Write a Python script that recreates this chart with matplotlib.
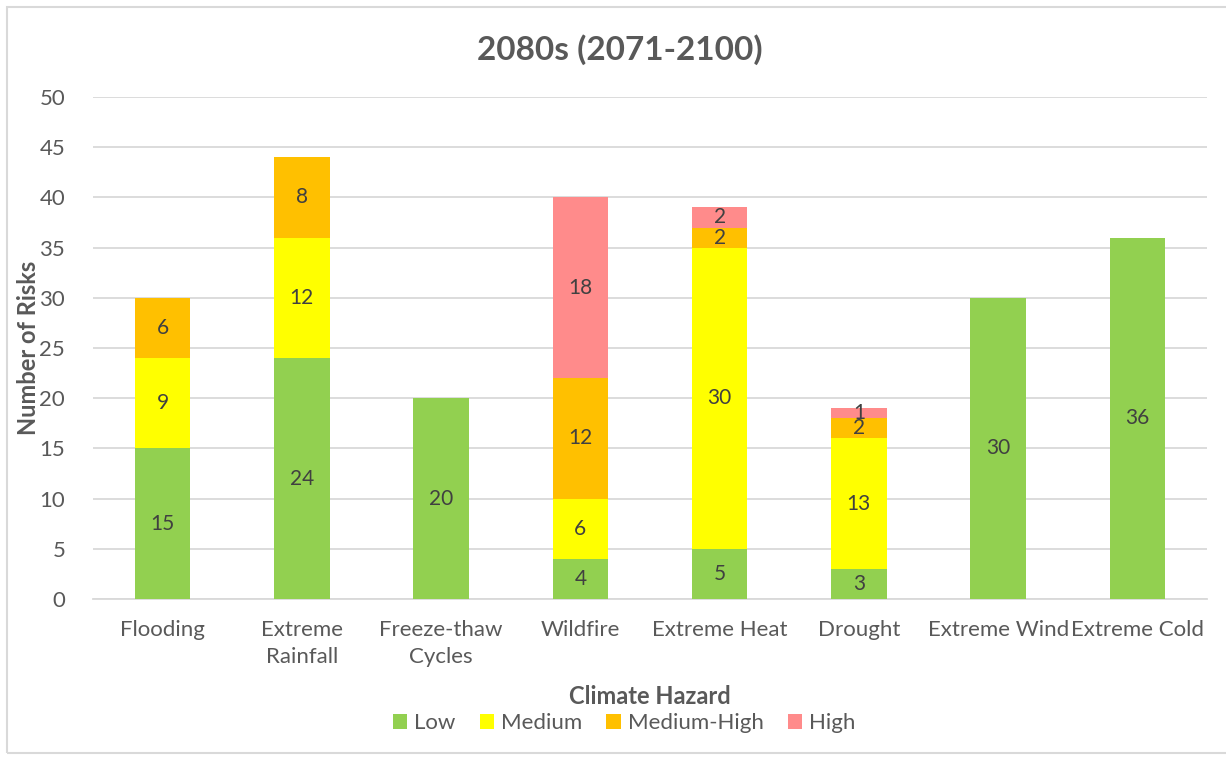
import matplotlib
matplotlib.use("Agg")
import matplotlib.pyplot as plt
import numpy as np
from matplotlib.patches import Rectangle

plt.rcParams['font.family'] = ['Lato', 'DejaVu Sans']

categories = ["Flooding", "Extreme\nRainfall", "Freeze-thaw\nCycles", "Wildfire",
              "Extreme Heat", "Drought", "Extreme Wind", "Extreme Cold"]
low = [15, 24, 20, 4, 5, 3, 30, 36]
medium = [9, 12, 0, 6, 30, 13, 0, 0]
medium_high = [6, 8, 0, 12, 2, 2, 0, 0]
high = [0, 0, 0, 18, 2, 1, 0, 0]
series_names = ["Low", "Medium", "Medium-High", "High"]
colors = ["#92D050", "#FFFF00", "#FFC000", "#FF8B8B"]

fig = plt.figure(figsize=(12.26, 7.57), dpi=100)
ax = fig.add_axes([93/1226, 1 - 599/757, (1207-93)/1226, (599-97)/757])

x = np.arange(len(categories))
bottom = np.zeros(len(categories))
handles = []
for vals, name, c in zip([low, medium, medium_high, high], series_names, colors):
    vals = np.array(vals, dtype=float)
    b = ax.bar(x, vals, bottom=bottom, width=0.4, color=c, label=name, zorder=3)
    handles.append(b)
    for xi, v, bt in zip(x, vals, bottom):
        if v > 0:
            ax.text(xi, bt + v / 2, f"{int(v)}", ha="center", va="center",
                    fontsize=15, color="#404040", zorder=4)
    bottom += vals

ax.set_xlim(-0.5, len(categories) - 0.5)
ax.set_ylim(0, 50)
ax.set_yticks(range(0, 51, 5))
ax.yaxis.grid(True, color="#D9D9D9", linewidth=1.3, zorder=0)
ax.set_axisbelow(True)
for s in ["top", "right", "left"]:
    ax.spines[s].set_visible(False)
ax.spines["bottom"].set_color("#D9D9D9")
ax.spines["bottom"].set_linewidth(1.3)
ax.tick_params(axis="both", length=0, labelsize=16, labelcolor="#595959")
ax.tick_params(axis="y", pad=20)
ax.tick_params(axis="x", pad=15)
ax.set_xticks(x)
ax.set_xticklabels(categories, linespacing=1.45)

fig.text(28/1226, 1 - 348/757, "Number of Risks", rotation=90, ha="center", va="center",
         fontsize=17, fontweight="bold", color="#595959")
fig.text(620/1226, 1 - 50/757, "2080s (2071-2100)", ha="center", va="center",
         fontsize=24, fontweight="bold", color="#595959")
fig.text(650/1226, 1 - 697/757, "Climate Hazard", ha="center", va="center",
         fontsize=17, fontweight="bold", color="#595959")

leg = fig.legend(handles=handles, labels=series_names, loc="center",
                 bbox_to_anchor=(624/1226, 1 - 723/757), ncol=4, frameon=False,
                 fontsize=16, handlelength=0.65, handleheight=0.65, handletextpad=0.3,
                 columnspacing=1.1, labelcolor="#595959")

fig.patches.append(Rectangle((7/1226, 0.005), 1.2, 1 - 7/757 - 0.005,
                             transform=fig.transFigure, fill=False,
                             edgecolor="#D9D9D9", linewidth=1.5))

fig.savefig("out.png", dpi=100)
